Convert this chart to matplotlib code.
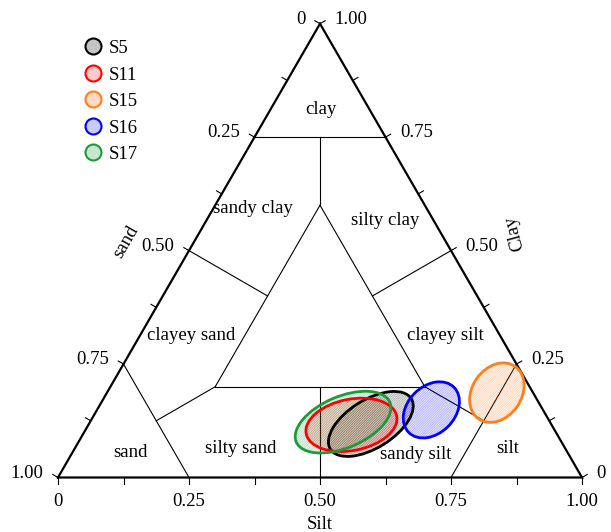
import matplotlib
matplotlib.use('Agg')
import matplotlib.pyplot as plt
from matplotlib.patches import Ellipse
from matplotlib.lines import Line2D
import numpy as np

plt.rcParams['font.family'] = ['Liberation Serif', 'DejaVu Serif']
plt.rcParams['hatch.linewidth'] = 0.4

# sample clouds: centre composition, spread (semi-axes, fraction of a side), tilt
samples = ['S5', 'S11', 'S15', 'S16', 'S17']
sand = [0.344, 0.382, 0.069, 0.213, 0.395]
silt = [0.538, 0.502, 0.744, 0.638, 0.483]
clay = [0.118, 0.116, 0.187, 0.149, 0.122]
spread_major = [0.091, 0.088, 0.061, 0.061, 0.097]
spread_minor = [0.046, 0.049, 0.047, 0.045, 0.049]
tilt = [32, 11, 55, 45, 23]
edge_colors = ['black', 'red', '#ff7f1e', 'blue', '#1e9a3c']
fill_colors = ['#c4c4c4', '#ffcaca', '#ffdac4', '#cacaff', '#c6e6ce']

ticks = [0, 0.125, 0.25, 0.375, 0.5, 0.625, 0.75, 0.875, 1.0]
label_ticks = [0, 0.25, 0.5, 0.75, 1.0]
tick_labels = ['0', '0.25', '0.50', '0.75', '1.00']

# Shepard classification: region names and (silt, clay) of the name
regions = ['clay', 'sandy clay', 'silty clay', 'clayey sand', 'clayey silt',
           'sand', 'silty sand', 'sandy silt', 'silt']
region_silt = [0.097, 0.076, 0.341, 0.097, 0.583, 0.111, 0.317, 0.658, 0.826]
region_clay = [0.810, 0.592, 0.567, 0.314, 0.312, 0.056, 0.065, 0.050, 0.063]

# boundary segments as (sand, silt, clay) pairs
boundaries = [
    ((0.25, 0, 0.75), (0, 0.25, 0.75)),
    ((0.75, 0, 0.25), (0.75, 0.25, 0)),
    ((0.25, 0.75, 0), (0, 0.75, 0.25)),
    ((0.6, 0.2, 0.2), (0.2, 0.6, 0.2)),
    ((0.2, 0.6, 0.2), (0.2, 0.2, 0.6)),
    ((0.2, 0.2, 0.6), (0.6, 0.2, 0.2)),
    ((0.2, 0.2, 0.6), (0.125, 0.125, 0.75)),
    ((0.6, 0.2, 0.2), (0.75, 0.125, 0.125)),
    ((0.2, 0.6, 0.2), (0.125, 0.75, 0.125)),
    ((0.5, 0, 0.5), (0.4, 0.2, 0.4)),
    ((0, 0.5, 0.5), (0.2, 0.4, 0.4)),
    ((0.5, 0.5, 0), (0.4, 0.4, 0.2)),
]

H = np.sqrt(3) / 2
px = 1 / 524


def tern(s, c):
    return s + c / 2, c * H


fig = plt.figure(figsize=(6.11, 5.32), dpi=100)
ax = fig.add_axes([0, 0, 1, 1])
ax.set_xlim(-58 * px, 553 * px)
ax.set_ylim(-54.5 * px, 477.5 * px)
ax.set_aspect('equal')
ax.axis('off')

fs = 13.5

# outer triangle
corners = [tern(0, 0), tern(1, 0), tern(0, 1), tern(0, 0)]
ax.plot([p[0] for p in corners], [p[1] for p in corners], color='black',
        lw=1.6, solid_joinstyle='miter', zorder=3)

for a, b in boundaries:
    p = tern(a[1], a[2])
    q = tern(b[1], b[2])
    ax.plot([p[0], q[0]], [p[1], q[1]], color='black', lw=0.8, zorder=2)

# ticks
tl = 6 * px
for t in ticks:
    x, y = tern(t, 0)
    ax.plot([x, x], [y, y - tl], color='black', lw=0.8)
    x, y = tern(0, t)
    ax.plot([x, x - tl * H], [y, y + tl * 0.5], color='black', lw=0.8)
    x, y = tern(1 - t, t)
    ax.plot([x, x + tl * H], [y, y + tl * 0.5], color='black', lw=0.8)

for t, lab in zip(label_ticks, tick_labels):
    x, y = tern(t, 0)
    ax.text(x, y - 15 * px, lab, ha='center', va='top', fontsize=fs)
    x, y = tern(0, 1 - t)
    ax.text(x - 14.5 * px, y + 4.5 * px, lab, ha='right', va='center', fontsize=fs)
    x, y = tern(1 - t, t)
    ax.text(x + 14.5 * px, y + 4.5 * px, lab, ha='left', va='center', fontsize=fs)

ax.text(0.5, -0.089, 'Silt', ha='center', va='center', fontsize=fs)
ax.text(0.130, 0.449, 'sand', ha='center', va='center', rotation=60, fontsize=fs)
ax.text(0.872, 0.467, 'Clay', ha='center', va='center', rotation=105, fontsize=fs)

for name, s, c in zip(regions, region_silt, region_clay):
    x, y = tern(s, c)
    ax.text(x, y, name, ha='center', va='center', fontsize=fs)

# sample ellipses
for i in range(len(samples)):
    x, y = tern(silt[i], clay[i])
    w = 2 * spread_major[i]
    h = 2 * spread_minor[i]
    ec = matplotlib.colors.to_rgba(edge_colors[i])
    ax.add_patch(Ellipse((x, y), w, h, angle=tilt[i],
                         facecolor=(ec[0], ec[1], ec[2], 0.1),
                         edgecolor=(ec[0], ec[1], ec[2], 0.3),
                         hatch='/' * 14, lw=0, zorder=4))
    ax.add_patch(Ellipse((x, y), w, h, angle=tilt[i], facecolor='none',
                         edgecolor=edge_colors[i], lw=2, zorder=5))

handles = [Line2D([], [], ls='none', marker='o', markersize=11.5,
                  markerfacecolor=fc, markeredgecolor=ec, markeredgewidth=1.5,
                  label=name)
           for name, fc, ec in zip(samples, fill_colors, edge_colors)]
ax.legend(handles=handles, loc='upper left', bbox_to_anchor=(0.137, 0.925),
          frameon=False, fontsize=fs, borderpad=0, borderaxespad=0,
          handlelength=1.0, handletextpad=0.35, labelspacing=0.50)

fig.savefig('out.png', dpi=100)
